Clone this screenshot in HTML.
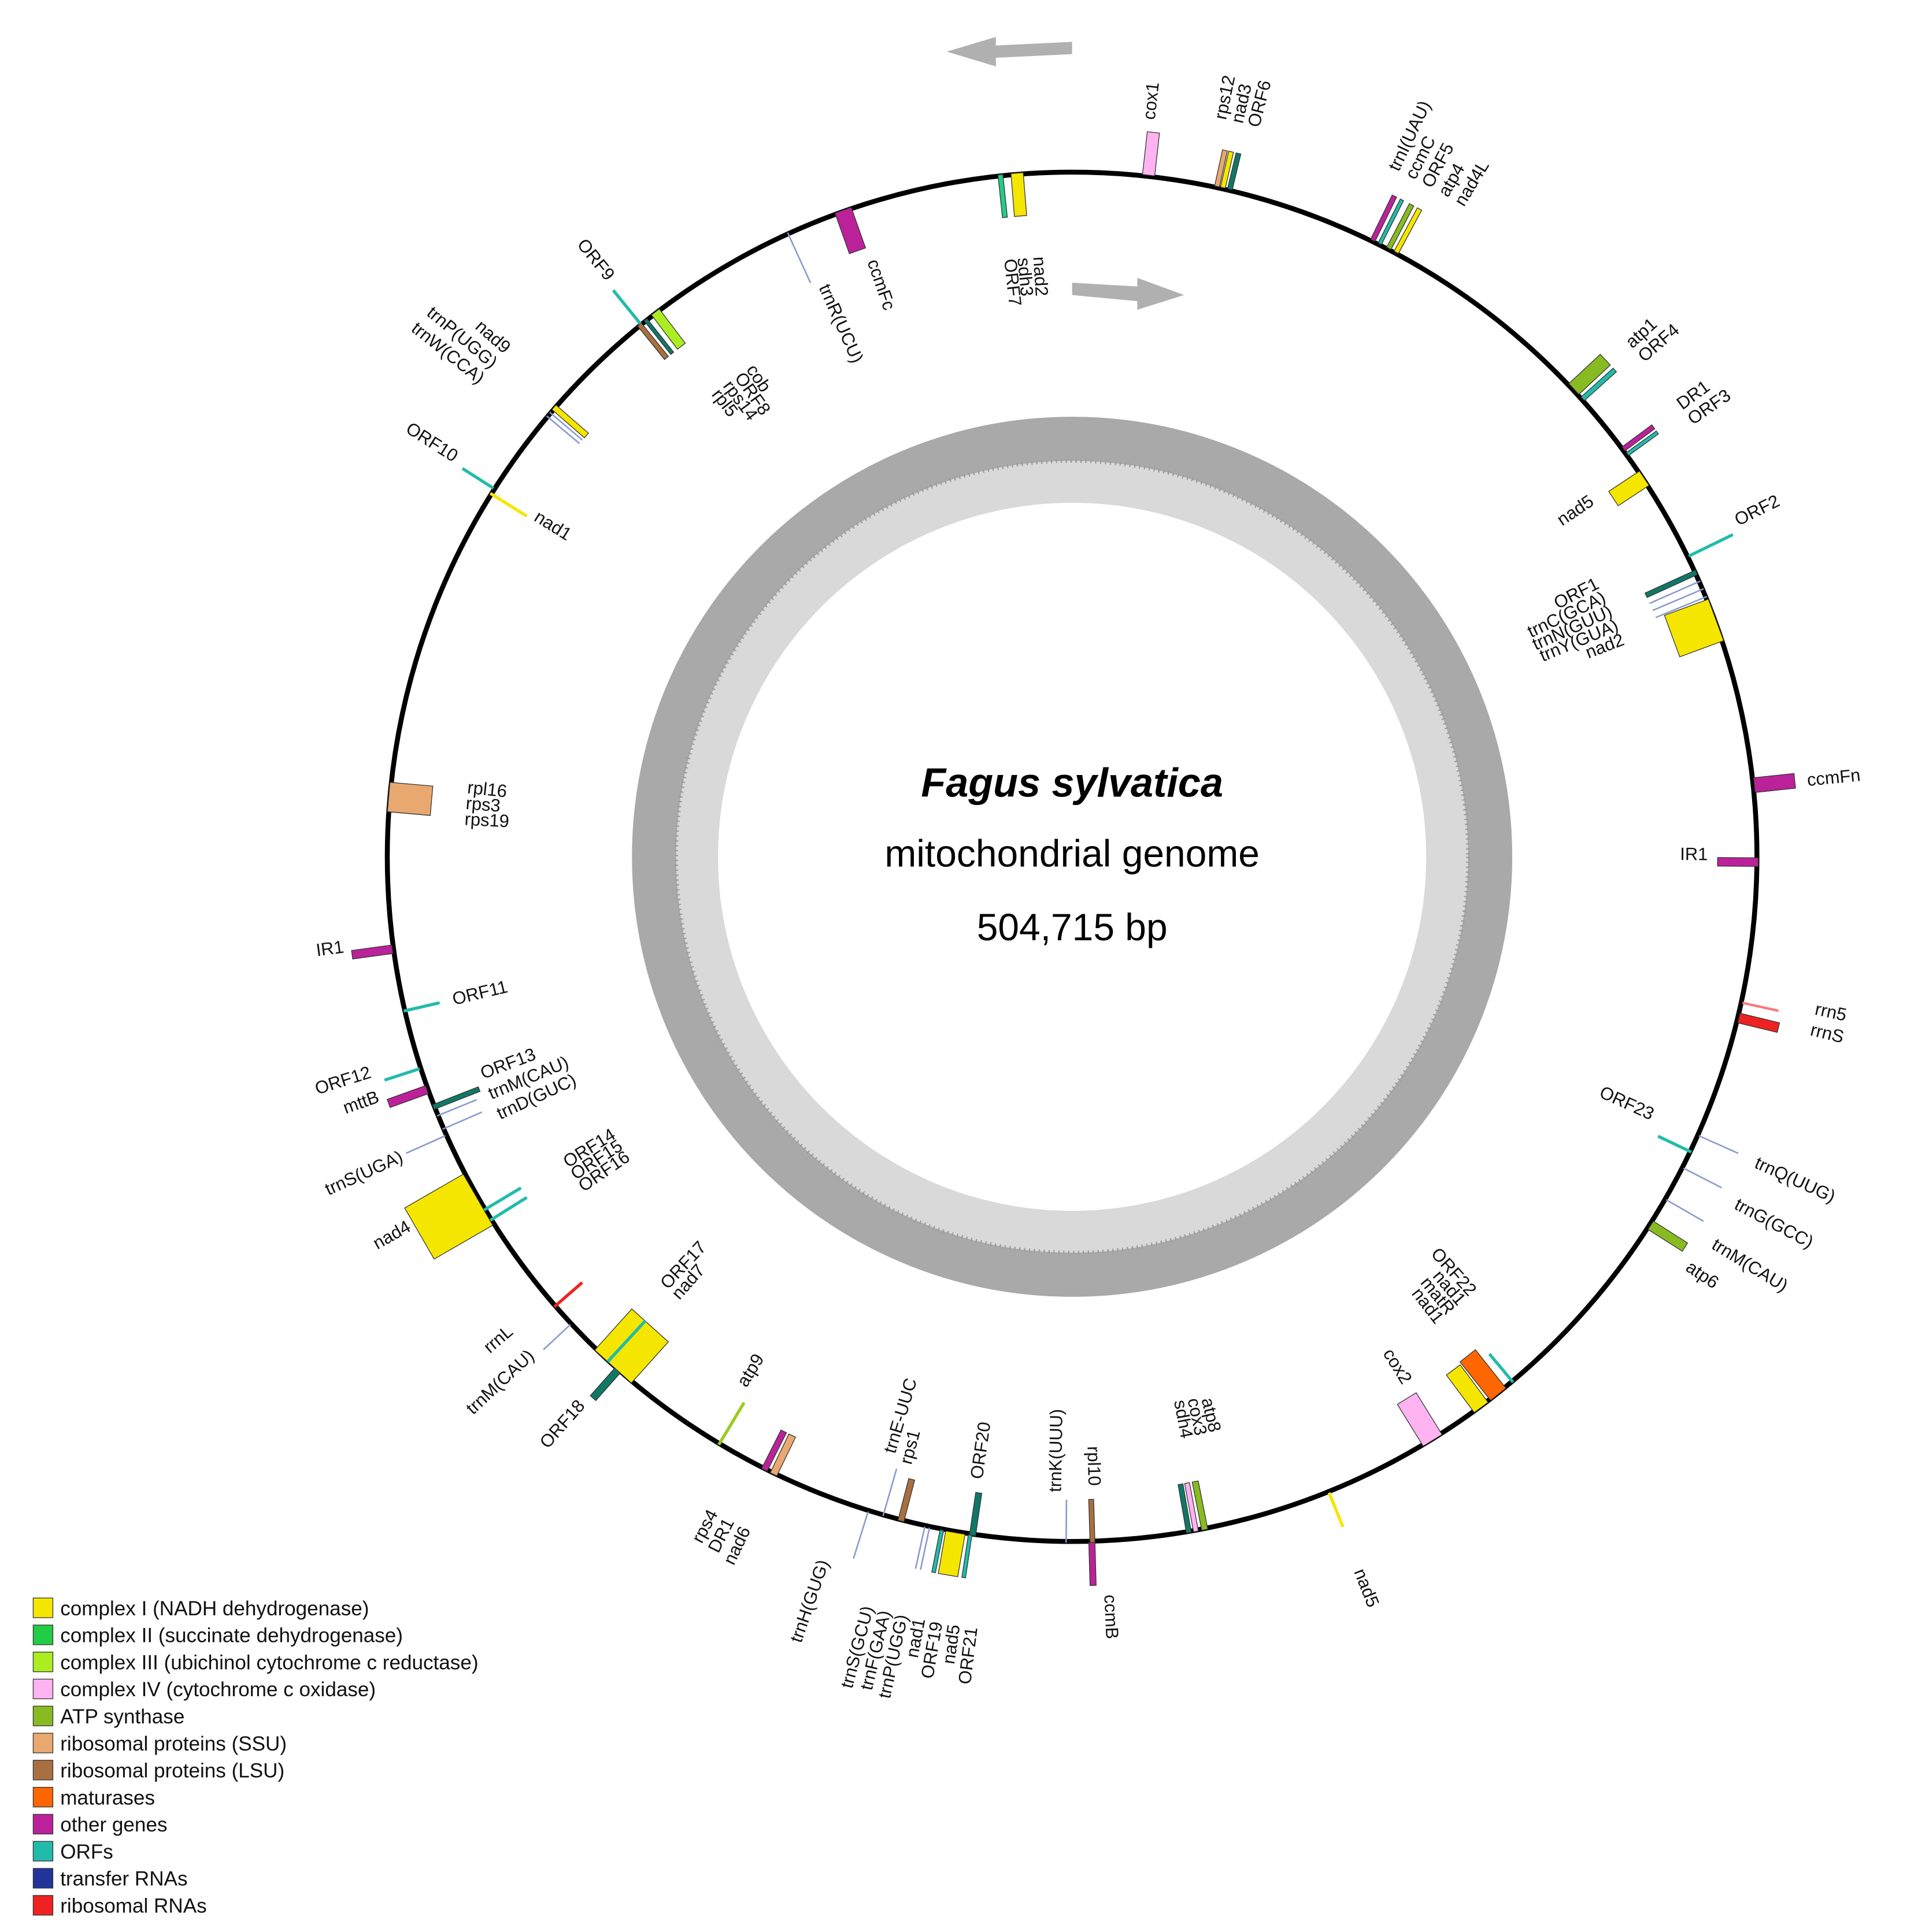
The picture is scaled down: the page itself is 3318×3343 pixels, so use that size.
<!DOCTYPE html>
<html><head><meta charset="utf-8"><style>html,body{margin:0;padding:0;background:#fff}svg{display:block}</style></head>
<body>
<svg xmlns="http://www.w3.org/2000/svg" width="3318" height="3343" viewBox="0 0 1560 1571.7" font-family="Liberation Sans, sans-serif" font-size="14.5">
<rect width="1560" height="1572" fill="#fff"/>
<polygon points="872,34 810,37 810,30 770,42 810,54 810,47 872,44" fill="#b0b0b0"/>
<polygon points="872,230 925,233 925,226 963,240 925,252 925,245 872,240" fill="#b0b0b0"/>
<circle cx="872" cy="697" r="340" fill="none" stroke="#a9a9a9" stroke-width="36"/>
<circle cx="872" cy="697" r="305" fill="none" stroke="#d9d9d9" stroke-width="34"/>
<circle cx="872" cy="697" r="322" fill="none" stroke="#9a9a9a" stroke-width="3" stroke-dasharray="1 3"/>
<text x="872" y="648" text-anchor="middle" font-size="33" font-weight="bold" font-style="italic">Fagus sylvatica</text>
<text x="872" y="705" text-anchor="middle" font-size="31">mitochondrial genome</text>
<text x="872" y="765" text-anchor="middle" font-size="31">504,715 bp</text>
<circle cx="872" cy="697" r="557" fill="none" stroke="#000" stroke-width="4"/>
<g stroke="#333" stroke-width="0.6">
<rect transform="rotate(6.4 872 697)" x="867" y="104" width="10" height="35" fill="#ffb3f0"/>
<rect transform="rotate(12.3 872 697)" x="869" y="109" width="4" height="30" fill="#e8a870"/>
<rect transform="rotate(12.8 872 697)" x="869" y="109" width="4" height="30" fill="#f5e600"/>
<rect transform="rotate(13.4 872 697)" x="869" y="109" width="4" height="30" fill="#117766"/>
<rect transform="rotate(26 872 697)" x="870" y="99" width="4" height="40" fill="#bb2299"/>
<rect transform="rotate(26.7 872 697)" x="870" y="99" width="3" height="40" fill="#22bbaa"/>
<rect transform="rotate(27.5 872 697)" x="870" y="99" width="4" height="40" fill="#88bb22"/>
<rect transform="rotate(28.2 872 697)" x="870" y="99" width="4" height="40" fill="#f5e600"/>
<rect transform="rotate(47 872 697)" x="866" y="104" width="12" height="35" fill="#88bb22"/>
<rect transform="rotate(48.1 872 697)" x="870" y="104" width="4" height="35" fill="#22bbaa"/>
<rect transform="rotate(53.5 872 697)" x="870" y="109" width="4" height="30" fill="#bb2299"/>
<rect transform="rotate(54.1 872 697)" x="870" y="109" width="3" height="30" fill="#22bbaa"/>
<rect transform="rotate(56.5 872 697)" x="865" y="139" width="14" height="30" fill="#f5e600"/>
<rect transform="rotate(65.5 872 697)" x="870" y="139" width="4" height="45" fill="#117766"/>
<rect transform="rotate(69.8 872 697)" x="854" y="139" width="36" height="38" fill="#f5e600"/>
<rect transform="rotate(84 872 697)" x="866" y="106" width="12" height="33" fill="#bb2299"/>
<rect transform="rotate(90.5 872 697)" x="868" y="139" width="7" height="33" fill="#bb2299"/>
<rect transform="rotate(102.3 872 697)" x="871" y="109" width="2" height="30" fill="#ff7777" stroke="none"/>
<rect transform="rotate(103.6 872 697)" x="868" y="106" width="8" height="33" fill="#ee2222"/>
<rect transform="rotate(122.5 872 697)" x="868" y="106" width="8" height="33" fill="#88bb22"/>
<rect transform="rotate(141.6 872 697)" x="864" y="139" width="16" height="40" fill="#ff6600"/>
<rect transform="rotate(143.4 872 697)" x="865" y="139" width="14" height="38" fill="#f5e600"/>
<rect transform="rotate(148.3 872 697)" x="863" y="139" width="18" height="40" fill="#ffb3f0"/>
<rect transform="rotate(168.8 872 697)" x="870" y="139" width="5" height="40" fill="#88bb22"/>
<rect transform="rotate(169.6 872 697)" x="870" y="139" width="4" height="40" fill="#ffb3f0"/>
<rect transform="rotate(170.2 872 697)" x="870" y="139" width="4" height="40" fill="#117766"/>
<rect transform="rotate(178.3 872 697)" x="870" y="139" width="4" height="35" fill="#a87040"/>
<rect transform="rotate(178.4 872 697)" x="869" y="104" width="5" height="35" fill="#bb2299"/>
<rect transform="rotate(188.4 872 697)" x="869" y="139" width="5" height="35" fill="#117766"/>
<rect transform="rotate(189.8 872 697)" x="864" y="104" width="16" height="35" fill="#f5e600"/>
<rect transform="rotate(188.6 872 697)" x="870" y="104" width="3" height="35" fill="#22bbaa"/>
<rect transform="rotate(191 872 697)" x="870" y="104" width="3" height="35" fill="#22bbaa"/>
<rect transform="rotate(194.5 872 697)" x="869" y="139" width="5" height="35" fill="#a87040"/>
<rect transform="rotate(205.8 872 697)" x="869" y="139" width="6" height="35" fill="#e8a870"/>
<rect transform="rotate(206.7 872 697)" x="869" y="139" width="5" height="35" fill="#bb2299"/>
<rect transform="rotate(221.5 872 697)" x="869" y="109" width="6" height="30" fill="#117766"/>
<rect transform="rotate(222 872 697)" x="852" y="139" width="40" height="45" fill="#f5e600"/>
<rect transform="rotate(240 872 697)" x="848" y="84" width="48" height="55" fill="#f5e600"/>
<rect transform="rotate(248.6 872 697)" x="870" y="139" width="4" height="40" fill="#117766"/>
<rect transform="rotate(250.2 872 697)" x="868" y="106" width="7" height="33" fill="#bb2299"/>
<rect transform="rotate(262.3 872 697)" x="868" y="106" width="7" height="33" fill="#bb2299"/>
<rect transform="rotate(275 872 697)" x="860" y="139" width="24" height="35" fill="#e8a870"/>
<rect transform="rotate(311 872 697)" x="869" y="139" width="5" height="35" fill="#f5e600"/>
<rect transform="rotate(322.8 872 697)" x="866" y="139" width="8" height="35" fill="#aaee22"/>
<rect transform="rotate(321.6 872 697)" x="870" y="139" width="3" height="35" fill="#117766"/>
<rect transform="rotate(321 872 697)" x="869" y="139" width="4" height="35" fill="#a87040"/>
<rect transform="rotate(340.5 872 697)" x="865" y="139" width="14" height="35" fill="#bb2299"/>
<rect transform="rotate(355.4 872 697)" x="867" y="139" width="10" height="35" fill="#f5e600"/>
<rect transform="rotate(354 872 697)" x="870" y="139" width="4" height="35" fill="#22cc88"/>
</g>
<g stroke-width="2.5">
<line transform="rotate(64 872 697)" x1="872" y1="139" x2="872" y2="99" stroke="#22bbaa"/>
<line transform="rotate(115.5 872 697)" x1="872" y1="139" x2="872" y2="169" stroke="#22bbaa"/>
<line transform="rotate(140 872 697)" x1="872" y1="139" x2="872" y2="169" stroke="#22bbaa"/>
<line transform="rotate(158 872 697)" x1="872" y1="139" x2="872" y2="109" stroke="#f5e600"/>
<line transform="rotate(211 872 697)" x1="872" y1="139" x2="872" y2="179" stroke="#99cc22"/>
<line transform="rotate(229 872 697)" x1="872" y1="139" x2="872" y2="169" stroke="#ee2222"/>
<line transform="rotate(238 872 697)" x1="872" y1="139" x2="872" y2="174" stroke="#22bbaa"/>
<line transform="rotate(239 872 697)" x1="872" y1="139" x2="872" y2="174" stroke="#22bbaa"/>
<line transform="rotate(252 872 697)" x1="872" y1="139" x2="872" y2="109" stroke="#22bbaa"/>
<line transform="rotate(257 872 697)" x1="872" y1="139" x2="872" y2="169" stroke="#22bbaa"/>
<line transform="rotate(302 872 697)" x1="872" y1="139" x2="872" y2="174" stroke="#f5e600"/>
<line transform="rotate(302.5 872 697)" x1="872" y1="139" x2="872" y2="109" stroke="#22bbaa"/>
<line transform="rotate(321 872 697)" x1="872" y1="139" x2="872" y2="104" stroke="#22bbaa"/>
<line transform="rotate(222.6 872 697)" x1="872" y1="139" x2="872" y2="184" stroke="#22bbaa"/>
</g>
<g stroke="#8899cc" stroke-width="1.2">
<line transform="rotate(66.3 872 697)" x1="872" y1="139" x2="872" y2="184"/>
<line transform="rotate(67 872 697)" x1="872" y1="139" x2="872" y2="184"/>
<line transform="rotate(67.7 872 697)" x1="872" y1="139" x2="872" y2="184"/>
<line transform="rotate(114 872 697)" x1="872" y1="139" x2="872" y2="104"/>
<line transform="rotate(117 872 697)" x1="872" y1="139" x2="872" y2="104"/>
<line transform="rotate(120 872 697)" x1="872" y1="139" x2="872" y2="104"/>
<line transform="rotate(180.5 872 697)" x1="872" y1="139" x2="872" y2="174"/>
<line transform="rotate(192 872 697)" x1="872" y1="139" x2="872" y2="104"/>
<line transform="rotate(192.4 872 697)" x1="872" y1="139" x2="872" y2="104"/>
<line transform="rotate(196 872 697)" x1="872" y1="139" x2="872" y2="179"/>
<line transform="rotate(197.3 872 697)" x1="872" y1="139" x2="872" y2="99"/>
<line transform="rotate(227 872 697)" x1="872" y1="139" x2="872" y2="109"/>
<line transform="rotate(246 872 697)" x1="872" y1="139" x2="872" y2="104"/>
<line transform="rotate(246.6 872 697)" x1="872" y1="139" x2="872" y2="174"/>
<line transform="rotate(247.8 872 697)" x1="872" y1="139" x2="872" y2="174"/>
<line transform="rotate(310 872 697)" x1="872" y1="139" x2="872" y2="174"/>
<line transform="rotate(310.4 872 697)" x1="872" y1="139" x2="872" y2="174"/>
<line transform="rotate(335.5 872 697)" x1="872" y1="139" x2="872" y2="184"/>
</g>
<g fill="#111">
<text transform="rotate(6.4 872 697) translate(872 94) rotate(-90)">cox1</text>
<text transform="rotate(11.8 872 697) translate(872 85) rotate(-90)">rps12</text>
<text transform="rotate(13.1 872 697) translate(872 85) rotate(-90)">nad3</text>
<text transform="rotate(14.4 872 697) translate(872 85) rotate(-90)">ORF6</text>
<text transform="rotate(25.5 872 697) translate(872 80) rotate(-90)">trnI(UAU)</text>
<text transform="rotate(26.9 872 697) translate(872 80) rotate(-90)">ccmC</text>
<text transform="rotate(28.3 872 697) translate(872 80) rotate(-90)">ORF5</text>
<text transform="rotate(29.7 872 697) translate(872 80) rotate(-90)">atp4</text>
<text transform="rotate(31.1 872 697) translate(872 80) rotate(-90)">nad4L</text>
<text transform="rotate(47.8 872 697) translate(872 82) rotate(-90)">atp1</text>
<text transform="rotate(49.2 872 697) translate(872 82) rotate(-90)">ORF4</text>
<text transform="rotate(53.8 872 697) translate(872 82) rotate(-90)">DR1</text>
<text transform="rotate(55.2 872 697) translate(872 82) rotate(-90)">ORF3</text>
<text transform="rotate(63.6 872 697) translate(872 92) rotate(-90)">ORF2</text>
<text transform="rotate(84.5 872 697) translate(872 96) rotate(-90)">ccmFn</text>
<text transform="rotate(102 872 697) translate(872 80) rotate(-90)">rrn5</text>
<text transform="rotate(103.6 872 697) translate(872 80) rotate(-90)">rrnS</text>
<text transform="rotate(114.5 872 697) translate(872 88) rotate(-90)">trnQ(UUG)</text>
<text transform="rotate(118 872 697) translate(872 88) rotate(-90)">trnG(GCC)</text>
<text transform="rotate(121.5 872 697) translate(872 88) rotate(-90)">trnM(CAU)</text>
<text transform="rotate(124 872 697) translate(872 96) rotate(-90)">atp6</text>
<text transform="rotate(158.5 872 697) translate(872 72) rotate(-90)">nad5</text>
<text transform="rotate(177.5 872 697) translate(872 96) rotate(-90)">ccmB</text>
<text text-anchor="end" transform="rotate(56 872 697) translate(872 184) rotate(-90)">nad5</text>
<text text-anchor="end" transform="rotate(63 872 697) translate(872 215) rotate(-90)">ORF1</text>
<text text-anchor="end" transform="rotate(64.5 872 697) translate(872 215) rotate(-90)">trnC(GCA)</text>
<text text-anchor="end" transform="rotate(66 872 697) translate(872 215) rotate(-90)">trnN(GUU)</text>
<text text-anchor="end" transform="rotate(67.5 872 697) translate(872 215) rotate(-90)">trnY(GUA)</text>
<text text-anchor="end" transform="rotate(69 872 697) translate(872 215) rotate(-90)">nad2</text>
<text text-anchor="end" transform="rotate(90.3 872 697) translate(872 180) rotate(-90)">IR1</text>
<text text-anchor="end" transform="rotate(114.5 872 697) translate(872 180) rotate(-90)">ORF23</text>
<text text-anchor="end" transform="rotate(138 872 697) translate(872 215) rotate(-90)">ORF22</text>
<text text-anchor="end" transform="rotate(139.4 872 697) translate(872 215) rotate(-90)">nad1</text>
<text text-anchor="end" transform="rotate(140.8 872 697) translate(872 215) rotate(-90)">matR</text>
<text text-anchor="end" transform="rotate(142.2 872 697) translate(872 215) rotate(-90)">nad1</text>
<text text-anchor="end" transform="rotate(148 872 697) translate(872 190) rotate(-90)">cox2</text>
<text text-anchor="end" transform="rotate(166.6 872 697) translate(872 215) rotate(-90)">atp8</text>
<text text-anchor="end" transform="rotate(168 872 697) translate(872 215) rotate(-90)">cox3</text>
<text text-anchor="end" transform="rotate(169.4 872 697) translate(872 215) rotate(-90)">sdh4</text>
<text text-anchor="end" transform="rotate(178.5 872 697) translate(872 185) rotate(-90)">rpl10</text>
<text transform="rotate(181 872 697) translate(872 180) rotate(90)">trnK(UUU)</text>
<text transform="rotate(188.2 872 697) translate(872 185) rotate(90)">ORF20</text>
<text transform="rotate(194.8 872 697) translate(872 185) rotate(90)">rps1</text>
<text transform="rotate(196.5 872 697) translate(872 190) rotate(90)">trnE-UUC</text>
<text transform="rotate(211.5 872 697) translate(872 190) rotate(90)">atp9</text>
<text transform="rotate(221.5 872 697) translate(872 215) rotate(90)">nad7</text>
<text transform="rotate(223 872 697) translate(872 215) rotate(90)">ORF17</text>
<text transform="rotate(235.5 872 697) translate(872 215) rotate(90)">ORF16</text>
<text transform="rotate(236.9 872 697) translate(872 215) rotate(90)">ORF15</text>
<text transform="rotate(238.3 872 697) translate(872 215) rotate(90)">ORF14</text>
<text transform="rotate(245.3 872 697) translate(872 185) rotate(90)">trnD(GUC)</text>
<text transform="rotate(247.3 872 697) translate(872 185) rotate(90)">trnM(CAU)</text>
<text transform="rotate(249.3 872 697) translate(872 185) rotate(90)">ORF13</text>
<text transform="rotate(256.5 872 697) translate(872 180) rotate(90)">ORF11</text>
<text transform="rotate(273 872 697) translate(872 202) rotate(90)">rps19</text>
<text transform="rotate(274.5 872 697) translate(872 202) rotate(90)">rps3</text>
<text transform="rotate(276 872 697) translate(872 202) rotate(90)">rpl16</text>
<text transform="rotate(302 872 697) translate(872 180) rotate(90)">nad1</text>
<text transform="rotate(322 872 697) translate(872 220) rotate(90)">rpl5</text>
<text transform="rotate(323.4 872 697) translate(872 220) rotate(90)">rps14</text>
<text transform="rotate(324.8 872 697) translate(872 220) rotate(90)">ORF8</text>
<text transform="rotate(326.2 872 697) translate(872 220) rotate(90)">cob</text>
<text transform="rotate(336 872 697) translate(872 190) rotate(90)">trnR(UCU)</text>
<text transform="rotate(341 872 697) translate(872 185) rotate(90)">ccmFc</text>
<text transform="rotate(353.5 872 697) translate(872 208) rotate(90)">ORF7</text>
<text transform="rotate(354.8 872 697) translate(872 208) rotate(90)">sdh3</text>
<text transform="rotate(356.3 872 697) translate(872 208) rotate(90)">nad2</text>
<text text-anchor="end" transform="rotate(187 872 697) translate(872 65) rotate(90)">ORF21</text>
<text text-anchor="end" transform="rotate(188.3 872 697) translate(872 65) rotate(90)">nad5</text>
<text text-anchor="end" transform="rotate(189.6 872 697) translate(872 65) rotate(90)">ORF19</text>
<text text-anchor="end" transform="rotate(190.9 872 697) translate(872 65) rotate(90)">nad1</text>
<text text-anchor="end" transform="rotate(192.2 872 697) translate(872 65) rotate(90)">trnP(UGG)</text>
<text text-anchor="end" transform="rotate(193.5 872 697) translate(872 65) rotate(90)">trnF(GAA)</text>
<text text-anchor="end" transform="rotate(194.8 872 697) translate(872 65) rotate(90)">trnS(GCU)</text>
<text text-anchor="end" transform="rotate(199 872 697) translate(872 90) rotate(90)">trnH(GUG)</text>
<text text-anchor="end" transform="rotate(205.5 872 697) translate(872 90) rotate(90)">nad6</text>
<text text-anchor="end" transform="rotate(206.9 872 697) translate(872 90) rotate(90)">DR1</text>
<text text-anchor="end" transform="rotate(208.3 872 697) translate(872 90) rotate(90)">rps4</text>
<text text-anchor="end" transform="rotate(221.5 872 697) translate(872 100) rotate(90)">ORF18</text>
<text text-anchor="end" transform="rotate(227 872 697) translate(872 100) rotate(90)">trnM(CAU)</text>
<text text-anchor="end" transform="rotate(229.5 872 697) translate(872 100) rotate(90)">rrnL</text>
<text text-anchor="end" transform="rotate(240.5 872 697) translate(872 80) rotate(90)">nad4</text>
<text text-anchor="end" transform="rotate(245.5 872 697) translate(872 100) rotate(90)">trnS(UGA)</text>
<text text-anchor="end" transform="rotate(250.5 872 697) translate(872 100) rotate(90)">mttB</text>
<text text-anchor="end" transform="rotate(252.5 872 697) translate(872 100) rotate(90)">ORF12</text>
<text text-anchor="end" transform="rotate(262.5 872 697) translate(872 100) rotate(90)">IR1</text>
<text text-anchor="end" transform="rotate(302.5 872 697) translate(872 100) rotate(90)">ORF10</text>
<text text-anchor="end" transform="rotate(308.5 872 697) translate(872 80) rotate(90)">trnW(CCA)</text>
<text text-anchor="end" transform="rotate(310 872 697) translate(872 80) rotate(90)">trnP(UGG)</text>
<text text-anchor="end" transform="rotate(311.5 872 697) translate(872 80) rotate(90)">nad9</text>
<text text-anchor="end" transform="rotate(321 872 697) translate(872 95) rotate(90)">ORF9</text>
</g>
<g stroke="#333" stroke-width="0.6">
<rect x="27" y="1300" width="16" height="16" fill="#f5e600"/>
<rect x="27" y="1322" width="16" height="16" fill="#22cc44"/>
<rect x="27" y="1344" width="16" height="16" fill="#aaee22"/>
<rect x="27" y="1366" width="16" height="16" fill="#ffb3f0"/>
<rect x="27" y="1388" width="16" height="16" fill="#88bb22"/>
<rect x="27" y="1410" width="16" height="16" fill="#e8a870"/>
<rect x="27" y="1432" width="16" height="16" fill="#a87040"/>
<rect x="27" y="1454" width="16" height="16" fill="#ff6600"/>
<rect x="27" y="1476" width="16" height="16" fill="#bb2299"/>
<rect x="27" y="1498" width="16" height="16" fill="#22bbaa"/>
<rect x="27" y="1520" width="16" height="16" fill="#223399"/>
<rect x="27" y="1542" width="16" height="16" fill="#ee2222"/>
</g>
<g font-size="16.5" fill="#111">
<text x="49" y="1314">complex I (NADH dehydrogenase)</text>
<text x="49" y="1336">complex II (succinate dehydrogenase)</text>
<text x="49" y="1358">complex III (ubichinol cytochrome c reductase)</text>
<text x="49" y="1380">complex IV (cytochrome c oxidase)</text>
<text x="49" y="1402">ATP synthase</text>
<text x="49" y="1424">ribosomal proteins (SSU)</text>
<text x="49" y="1446">ribosomal proteins (LSU)</text>
<text x="49" y="1468">maturases</text>
<text x="49" y="1490">other genes</text>
<text x="49" y="1512">ORFs</text>
<text x="49" y="1534">transfer RNAs</text>
<text x="49" y="1556">ribosomal RNAs</text>
</g>
</svg>
</body></html>
